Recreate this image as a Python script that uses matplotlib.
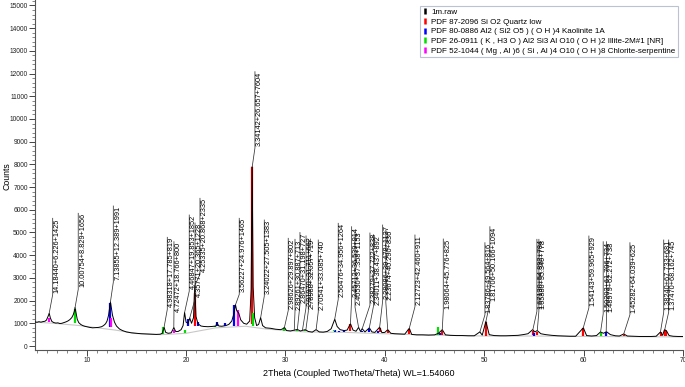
import numpy as np
import matplotlib
matplotlib.use("Agg")
import matplotlib.pyplot as plt
from matplotlib.lines import Line2D
from matplotlib.ticker import MultipleLocator

plt.rcParams['font.family'] = ['Liberation Sans', 'DejaVu Sans']

# ---------------- data ----------------
two_theta = [4.80, 5.00, 5.20, 5.40, 5.60, 5.80, 5.95, 6.10, 6.23, 6.35, 6.50, 6.70, 6.90, 7.10, 7.30,
             7.50, 7.70, 7.90, 8.10, 8.30, 8.50, 8.65, 8.75, 8.83, 8.93, 9.05, 9.20, 9.40, 9.60, 9.80,
             10.00, 10.30, 10.60, 10.90, 11.20, 11.50, 11.70, 11.90, 12.05, 12.20, 12.30, 12.39, 12.48,
             12.60, 12.80, 13.00, 13.30, 13.60, 14.00, 14.50, 15.00, 15.50, 16.00, 16.50, 17.00, 17.40,
             17.60, 17.79, 17.95, 18.20, 18.50, 18.77, 18.95, 19.20, 19.50, 19.70, 19.85, 20.00, 20.20,
             20.37, 20.55, 20.75, 20.87, 21.00, 21.20, 21.50, 21.80, 22.20, 22.60, 23.00, 23.10, 23.30,
             23.60, 24.00, 24.30, 24.60, 24.80, 24.97, 25.10, 25.30, 25.50, 25.80, 26.10, 26.40, 26.55,
             26.65, 26.75, 26.90, 27.10, 27.30, 27.50, 27.70, 28.00, 28.50, 29.00, 29.50, 29.70, 29.90,
             30.10, 30.50, 30.90, 31.20, 31.50, 31.80, 32.00, 32.30, 32.70, 33.08, 33.40, 33.80, 34.20,
             34.60, 34.96, 35.20, 35.50, 35.90, 36.20, 36.54, 36.80, 37.10, 37.36, 37.55, 37.72, 38.00,
             38.44, 38.70, 39.00, 39.48, 39.70, 40.00, 40.29, 40.60, 41.00, 41.50, 42.00, 42.46, 42.70,
             43.20, 43.80, 44.40, 45.00, 45.40, 45.78, 46.10, 46.60, 47.20, 47.80, 48.40, 49.00, 49.56,
             49.80, 50.17, 50.50, 51.00, 51.60, 52.20, 52.80, 53.40, 53.90, 54.40, 54.87, 55.10, 55.33,
             55.70, 56.20, 56.80, 57.40, 58.00, 58.60, 59.20, 59.97, 60.30, 60.80, 61.30, 61.70, 62.00,
             62.30, 62.70, 63.20, 63.60, 64.04, 64.40, 65.00, 65.60, 66.20, 66.80, 67.30, 67.74, 67.95,
             68.14, 68.32, 68.60, 69.00, 69.50, 70.00]
counts = [1060, 1045, 1070, 1050, 1075, 1090, 1140, 1290, 1440, 1230, 1080, 1030, 1010, 1020, 990,
          1000, 1030, 1060, 1100, 1160, 1250, 1380, 1520, 1690, 1450, 1180, 1030, 950, 900, 870,
          850, 820, 800, 810, 820, 850, 900, 980, 1100, 1350, 1650, 1940, 1700,
          1350, 1050, 880, 750, 680, 620, 580, 560, 540, 530, 520, 510, 520,
          560, 820, 600, 560, 580, 810, 640, 640, 720, 900, 1480, 1050, 1000,
          1230, 1000, 1250, 2650, 1300, 980, 880, 860, 850, 860, 880, 1020, 880,
          870, 900, 950, 1100, 1400, 1820, 1550, 1450, 1150, 1000, 960, 1100, 2500,
          7900, 2600, 1250, 900, 950, 1250, 900, 800, 780, 740, 720, 750, 820,
          680, 660, 700, 730, 660, 700, 720, 640, 610, 720, 620, 610, 640,
          760, 1180, 860, 720, 680, 700, 980, 700, 650, 820, 640, 760, 620,
          800, 620, 600, 830, 590, 600, 720, 560, 540, 530, 520, 780, 510,
          490, 490, 480, 490, 560, 720, 490, 470, 460, 460, 450, 450, 620,
          480, 1080, 500, 460, 450, 450, 460, 470, 500, 540, 720, 620, 680,
          540, 500, 470, 450, 440, 430, 430, 800, 460, 440, 460, 620, 560,
          630, 500, 450, 440, 530, 440, 430, 420, 420, 420, 430, 620, 470,
          720, 680, 460, 430, 420, 420]

bg_theta = [4.8, 6.4, 9.3, 12.9, 15.0, 17.5, 20.0, 23.0, 26.0, 28.0, 32.0, 36.0, 40.0, 45.0, 50.0, 55.0, 60.0, 65.0, 70.0]
bg_counts = [1050, 1010, 900, 700, 550, 500, 560, 800, 870, 750, 620, 600, 540, 480, 440, 440, 420, 410, 400]

# reference sticks: position, bottom, top
quartz_pos = [20.86, 26.64, 36.54, 39.47, 40.29, 42.45, 45.79, 50.14, 54.87, 55.33, 59.96, 64.03, 67.74, 68.14, 68.32]
quartz_lo = [900, 950, 640, 600, 580, 520, 490, 460, 470, 470, 430, 420, 420, 420, 420]
quartz_hi = [2335, 7900, 950, 800, 700, 760, 650, 1070, 650, 600, 780, 480, 600, 700, 680]

kaol_pos = [12.36, 20.22, 21.2, 23.08, 23.9, 24.87, 35.0, 35.4, 35.9, 37.7, 38.4, 39.3, 45.5, 55.0, 62.3]
kaol_lo = [820, 900, 870, 860, 880, 900, 620, 620, 620, 600, 600, 590, 490, 460, 440]
kaol_hi = [1880, 1180, 1070, 1060, 1000, 1800, 700, 680, 690, 680, 750, 680, 560, 560, 600]

illite_pos = [8.85, 17.72, 19.9, 22.9, 26.72, 29.9, 31.2, 32.0, 34.9, 45.3, 61.7]
illite_lo = [1000, 520, 560, 850, 900, 680, 660, 650, 640, 490, 440]
illite_hi = [1650, 820, 700, 900, 1450, 780, 720, 720, 700, 850, 580]

chlor_pos = [6.22, 12.45, 18.8, 25.2]
chlor_lo = [1050, 820, 560, 900]
chlor_hi = [1250, 1230, 700, 1585]

label_texts = ["14.18440+6.226+1425", "10.00754+8.829+1656", "7.13855+12.389+1991",
               "4.98318+17.785+819", "4.72472+18.766+800", "4.46847+19.853+1852",
               "4.35771+20.365+1228", "4.25335+20.868+2335", "3.56227+24.976+1465",
               "3.34142+26.657+7604", "3.24022+27.505+1383", "2.98626+29.897+802",
               "2.89261+30.887+713", "2.86470+31.198+727", "2.81970+31.711+662", "2.78988+32.057+719",
               "2.70541+33.085+740", "2.56476+34.956+1264", "2.45712+36.539+914",
               "2.40530+37.358+1153", "2.38279+37.722+838", "2.34011+38.437+892",
               "2.28086+39.478+1137", "2.23674+40.290+836", "2.12723+42.460+911",
               "1.98064+45.776+825", "1.83786+49.564+816", "1.81706+50.166+1094",
               "1.67130+54.892+784", "1.65880+55.340+778", "1.54143+59.965+929",
               "1.50203+61.706+734", "1.48979+62.272+738", "1.45282+64.039+625",
               "1.38240+67.733+681", "1.37470+68.162+745"]
label_peak = [1440, 1690, 1940, 820, 810, 1480, 1230, 2650, 1820, 7900, 1250, 820,
              700, 730, 700, 720, 720, 1180, 980, 820, 760, 800, 830, 720, 780,
              720, 620, 1080, 720, 680, 800, 620, 630, 530, 620, 720]

# layout of label leaders (2theta of vertical leader, top of text in counts)
label_x = [6.58, 9.15, 12.68, 18.11, 18.78, 20.32, 20.9, 21.4, 25.35, 26.93, 27.87, 30.28,
           30.96, 31.46, 32.07, 32.3, 33.3, 35.31, 36.66, 37.0, 38.5, 38.85, 39.78, 40.1, 43.03,
           45.88, 50.07, 50.57, 55.3, 55.5, 60.53, 61.97, 62.31, 64.66, 68.06, 68.56]
label_top = [5625, 5845, 6167, 4788, 4594, 5770, 5418, 6506, 5625, 12083, 5550, 4744,
             4700, 5000, 4850, 4700, 4669, 5405, 5255, 5035, 4978, 4900, 5330, 5100, 4890,
             4713, 4550, 5255, 4700, 4700, 4845, 4594, 4594, 4550, 4670, 4670]

legend_labels = ["1m.raw", "PDF 87-2096 Si O2 Quartz low",
                 "PDF 80-0886 Al2 ( Si2 O5 ) ( O H )4 Kaolinite 1A",
                 "PDF 26-0911 ( K , H3 O ) Al2 Si3 Al O10 ( O H )2 Illite-2M#1 [NR]",
                 "PDF 52-1044 ( Mg , Al )6 ( Si , Al )4 O10 ( O H )8 Chlorite-serpentine"]
legend_colors = ["black", "#ff0000", "#0000ff", "#00e000", "#ff00ff"]

# ---------------- figure ----------------
W, H = 685, 387
fig = plt.figure(figsize=(W / 100, H / 100), dpi=100)
ax = fig.add_axes([35 / W, 1 - 350 / H, (683 - 35) / W, 350 / H])
ax.set_xlim(4.8, 70)
ax.set_ylim(-176, 15240)
for s in ['top', 'right']:
    ax.spines[s].set_visible(False)
for s in ['left', 'bottom']:
    ax.spines[s].set_color('#555555')
    ax.spines[s].set_linewidth(0.8)

ax.xaxis.set_major_locator(MultipleLocator(10))
ax.xaxis.set_minor_locator(MultipleLocator(1))
ax.yaxis.set_major_locator(MultipleLocator(1000))
ax.yaxis.set_minor_locator(MultipleLocator(200))
ax.tick_params(which='major', length=4, width=0.7, labelsize=4.8, colors='#444444', labelcolor='#222222', pad=1.2)
ax.tick_params(which='minor', length=2, width=0.5, colors='#555555')

fig.text(7 / W, 1 - 176 / H, "Counts", rotation=90, ha='center', va='center', fontsize=6.3)
ax.set_xlabel("2Theta (Coupled TwoTheta/Theta) WL=1.54060", fontsize=6.5, labelpad=3.5)

ax.plot(bg_theta, bg_counts, color='#c8c8c8', lw=0.8, zorder=1)

for pos, lo, hi, c in [(quartz_pos, quartz_lo, quartz_hi, legend_colors[1]),
                       (kaol_pos, kaol_lo, kaol_hi, legend_colors[2]),
                       (illite_pos, illite_lo, illite_hi, legend_colors[3]),
                       (chlor_pos, chlor_lo, chlor_hi, legend_colors[4])]:
    ax.vlines(pos, lo, hi, colors=c, lw=1.6, zorder=2)

ax.plot(two_theta, counts, color='black', lw=0.7, zorder=3)

# peak labels
fig.canvas.draw()
renderer = fig.canvas.get_renderer()
inv = ax.transData.inverted()
for txt, pk, lx, top in zip(label_texts, label_peak, label_x, label_top):
    pk_tt = float(txt.split('+')[1])
    t = ax.text(lx + 0.08, top, txt, rotation=90, ha='left', va='top', fontsize=5.3, zorder=5)
    bb = t.get_window_extent(renderer)
    ybot = inv.transform((0, bb.y0 - 2))[1]
    ax.plot([pk_tt, lx, lx], [pk, ybot, top], color='#333333', lw=0.55, zorder=4)

handles = [Line2D([], [], color=c, marker='|', linestyle='None', markersize=5, markeredgewidth=1.8)
           for c in legend_colors]
leg = fig.legend(handles, legend_labels, loc='upper right', bbox_to_anchor=(678 / W, 1 - 6 / H),
                 fontsize=5.8, frameon=True, fancybox=False, handlelength=0.6, handletextpad=0.5,
                 labelspacing=0.25, borderpad=0.3, borderaxespad=0)
leg.get_frame().set_edgecolor('#aab4c8')
leg.get_frame().set_linewidth(0.8)

fig.savefig("out.png", dpi=100)
